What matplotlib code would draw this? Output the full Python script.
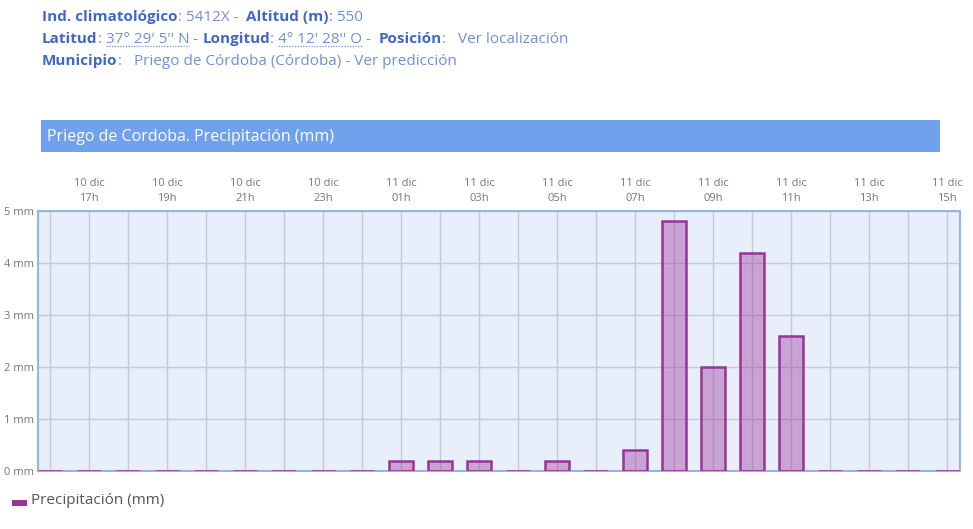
import matplotlib.pyplot as plt
from matplotlib.patches import Rectangle
import numpy as np

plt.rcParams['font.family'] = ['Open Sans', 'DejaVu Sans']

# hourly precipitation, 10 dic 16h .. 11 dic 15h
hours = [16, 17, 18, 19, 20, 21, 22, 23, 0, 1, 2, 3, 4, 5, 6, 7, 8, 9, 10, 11, 12, 13, 14, 15]
days = ['10 dic'] * 8 + ['11 dic'] * 16
precip = [0, 0, 0, 0, 0, 0, 0, 0, 0, 0.2, 0.2, 0.2, 0, 0.2, 0, 0.4,
          4.8, 2.0, 4.2, 2.6, 0, 0, 0, 0]
yticks = [0, 1, 2, 3, 4, 5]

W, H = 973, 529
fig = plt.figure(figsize=(W / 100, H / 100), dpi=100)

bold_c = '#4068c4'
reg_c = '#6f90da'


def px(x, y):
    return x / W, 1 - y / H


def write_line(pieces, x0, y0, size=11):
    r = fig.canvas.get_renderer()
    x = x0
    for txt, bold, under in pieces:
        t = fig.text(*px(x, y0), txt, fontsize=size,
                     fontweight='bold' if bold else 'normal',
                     color=bold_c if bold else reg_c, va='baseline', ha='left')
        bb = t.get_window_extent(renderer=r)
        if under:
            fig.add_artist(plt.Line2D([bb.x0 / W, bb.x1 / W],
                                      [(H - y0 - 3) / H] * 2,
                                      transform=fig.transFigure, color=reg_c,
                                      lw=0.9, ls=(0, (1, 1.2))))
        x += bb.width


write_line([('Ind. climatológico', True, False), (': 5412X -  ', False, False),
            ('Altitud (m)', True, False), (': 550', False, False)], 42, 21)
write_line([('Latitud', True, False), (': ', False, False),
            ("37° 29' 5'' N", False, True), (' - ', False, False),
            ('Longitud', True, False), (': ', False, False),
            ("4° 12' 28'' O", False, True), (' -  ', False, False),
            ('Posición', True, False), (':   Ver localización', False, False)], 42, 43)
write_line([('Municipio', True, False),
            (':   Priego de Córdoba (Córdoba) - Ver predicción', False, False)], 42, 65)

# title band
fig.add_artist(Rectangle(px(41, 152), 899 / W, 32 / H, transform=fig.transFigure,
                         facecolor='#6fa1ec', edgecolor='none'))
fig.text(*px(47, 137), 'Priego de Cordoba. Precipitación (mm)', color='white',
         fontsize=11.5, va='center', ha='left')

# chart
ax = fig.add_axes([38 / W, (H - 471) / H, 922 / W, 260 / H])
ax.set_facecolor('#e8effb')
x = np.arange(len(precip))
ax.set_xlim(-0.31, len(precip) - 0.67)
ax.set_ylim(0, 5)
for xi in x:
    ax.axvline(xi, color='#c4cad8', lw=1, zorder=1)
ax.grid(True, axis='y', color='#c4cad8', lw=1)
ax.set_axisbelow(True)

ax.bar(x, precip, width=0.6, facecolor=(0.6, 0.2, 0.6, 0.4),
       edgecolor='#993399', linewidth=1.8, zorder=3)

lab_idx = x[1::2]
ax.set_xticks(lab_idx)
ax.set_xticklabels([f'{days[i]}\n{hours[i]:02d}h' for i in lab_idx],
                   fontsize=8, color='#777777', linespacing=1.55)
ax.xaxis.tick_top()
ax.tick_params(axis='x', which='both', length=0, pad=5)
ax.set_yticks(yticks)
ax.set_yticklabels([f'{v} mm' for v in yticks], fontsize=8, color='#777777')
ax.tick_params(axis='y', length=0, pad=3)
for s in ax.spines.values():
    s.set_color('#94b5e6')
    s.set_linewidth(1.5)

# legend
fig.add_artist(Rectangle(px(12, 506), 15 / W, 6 / H, transform=fig.transFigure,
                         facecolor='#993399', edgecolor='none'))
fig.text(*px(31, 501), 'Precipitación (mm)', fontsize=11, color='#555555',
         va='center', ha='left')

fig.savefig('out.png', dpi=100)
